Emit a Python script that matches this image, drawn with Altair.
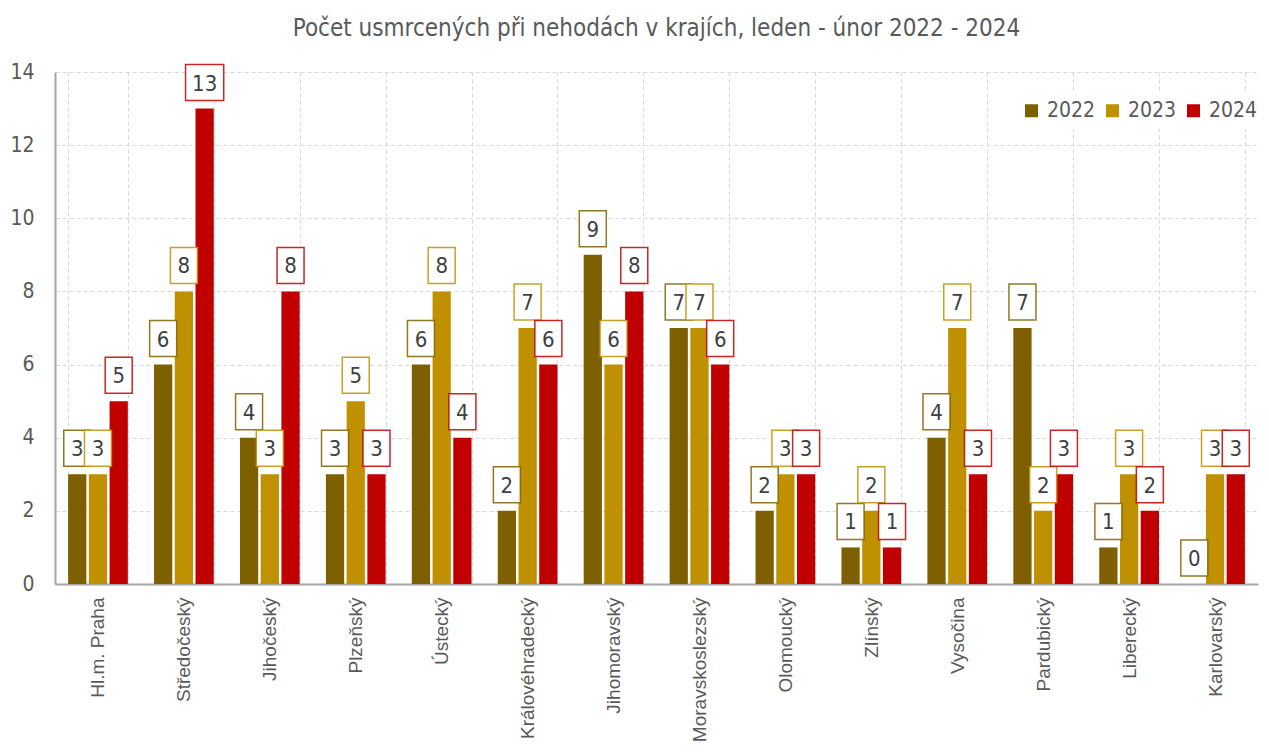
import altair as alt
import pandas as pd

regions = ["Hl.m. Praha", "Středočeský", "Jihočeský", "Plzeňský", "Ústecký",
           "Královéhradecký", "Jihomoravský", "Moravskoslezský", "Olomoucký",
           "Zlínský", "Vysočina", "Pardubický", "Liberecký", "Karlovarský"]
years = ["2022", "2023", "2024"]
v2022 = [3, 6, 4, 3, 6, 2, 9, 7, 2, 1, 4, 7, 1, 0]
v2023 = [3, 8, 3, 5, 8, 7, 6, 7, 3, 2, 7, 2, 3, 3]
v2024 = [5, 13, 8, 3, 4, 6, 8, 6, 3, 1, 3, 3, 2, 3]
colors = ["#7f6000", "#bf9000", "#c00000"]
title = "Počet usmrcených při nehodách v krajích, leden - únor 2022 - 2024"

rows = []
for y, vals in zip(years, [v2022, v2023, v2024]):
    for r, v in zip(regions, vals):
        rows.append({"region": r, "year": y, "value": v})
df = pd.DataFrame(rows)

NARROW = "'DejaVu Sans Condensed', 'Liberation Sans Narrow', sans-serif"
REG = "'Liberation Sans', Arial, sans-serif"

box1 = "M-0.75,-1L0.75,-1L0.75,1L-0.75,1Z"
box2 = "M-1.06,-1L1.06,-1L1.06,1L-1.06,1Z"

x = alt.X("region:N", sort=regions, title=None,
          scale=alt.Scale(paddingInner=0.305, paddingOuter=0.1525),
          axis=alt.Axis(labelAngle=-90, labelAlign="right", labelBaseline="middle",
                        labelFont=REG, labelFontSize=19, labelColor="#595959",
                        labelPadding=13, ticks=False, tickSize=0, tickBand="extent",
                        grid=True, gridColor="#d9d9d9", gridDash=[4, 3], gridWidth=1,
                        domainColor="#a6a6a6", domainWidth=2))
xo = alt.XOffset("year:N", sort=years, scale=alt.Scale(paddingInner=0.12, paddingOuter=0))
y = alt.Y("value:Q", title=None,
          scale=alt.Scale(domain=[0, 14], nice=False),
          axis=alt.Axis(values=list(range(0, 15, 2)), labelFont=NARROW, labelFontSize=21,
                        labelColor="#595959", labelPadding=21, ticks=False, tickSize=0,
                        grid=True, gridColor="#d9d9d9", gridDash=[4, 3], gridWidth=1,
                        domainColor="#a6a6a6", domainWidth=2))

base = alt.Chart(df)

bars = base.mark_bar().encode(
    x=x, xOffset=xo, y=y,
    color=alt.Color("year:N", sort=years,
                    scale=alt.Scale(domain=years, range=colors),
                    legend=alt.Legend(title=None, orient="none", legendX=958, legendY=20,
                                      direction="horizontal", columns=3,
                                      fillColor="white", padding=8,
                                      symbolType="square", symbolSize=169,
                                      symbolStrokeWidth=0,
                                      labelFont=NARROW, labelFontSize=21,
                                      labelColor="#595959", labelOffset=5,
                                      columnPadding=6)),
)

boxes = base.transform_calculate(
    digits="datum.value >= 10 ? 'w' : 'n'"
).mark_point(filled=False, fill="white", fillOpacity=1, opacity=1,
             strokeWidth=1.5, strokeOpacity=0.85, size=1296, yOffset=-26).encode(
    x=x, xOffset=xo, y=y,
    stroke=alt.Stroke("year:N", sort=years,
                      scale=alt.Scale(domain=years, range=colors), legend=None),
    shape=alt.Shape("digits:N", scale=alt.Scale(domain=["n", "w"], range=[box1, box2]),
                    legend=None),
)

texts = base.mark_text(font=NARROW, fontSize=22, color="#404040",
                       baseline="middle", yOffset=-25).encode(
    x=x, xOffset=xo, y=y, text="value:Q",
)

chart = alt.layer(bars, boxes, texts).properties(
    width=1203, height=512,
    title=alt.TitleParams(title, font=NARROW, fontSize=24, fontWeight="normal",
                          color="#595959", offset=20),
    autosize=alt.AutoSizeParams(type="none"),
    padding={"left": 47, "top": 64, "right": 3, "bottom": 161},
).configure_view(stroke=None)

chart.save("out.html", embed_options={"renderer": "svg", "actions": False})
